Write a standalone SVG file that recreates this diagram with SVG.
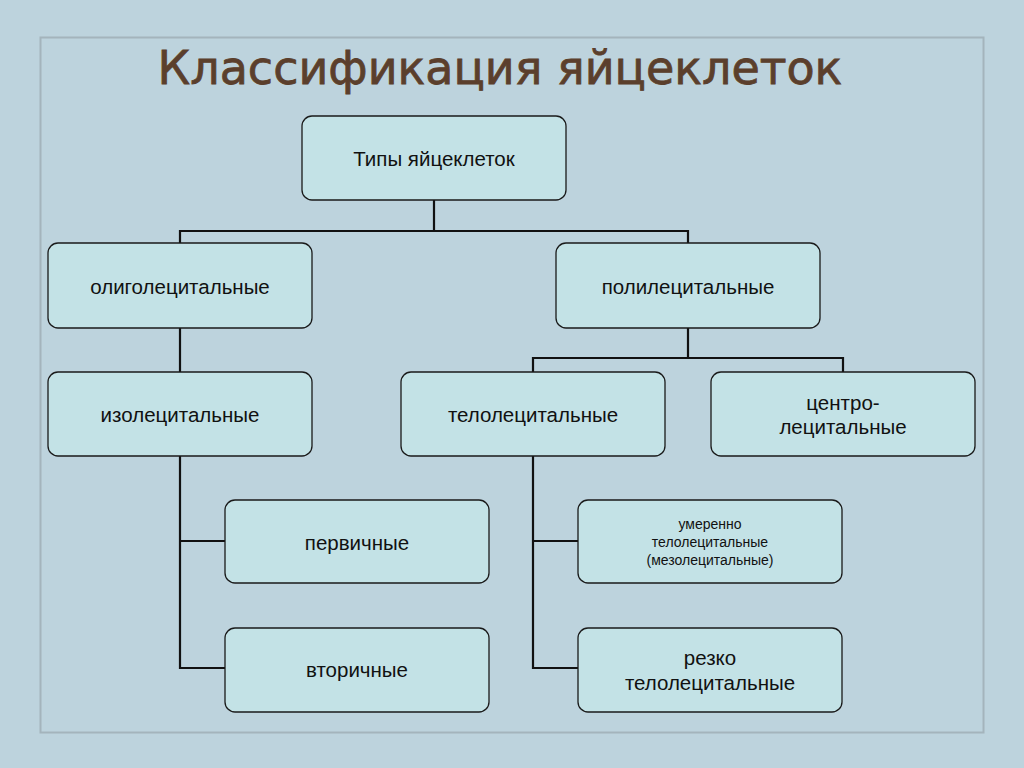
<svg xmlns="http://www.w3.org/2000/svg" width="1024" height="768" viewBox="0 0 1024 768">
<style>
.n rect{fill:#c3e2e6;stroke:#1a1a1a;stroke-width:1.3}
.n text{font-family:"Liberation Sans",Arial,sans-serif;font-size:20.5px;fill:#111;text-anchor:middle}
.n text.s{font-size:14px}
.c path{fill:none;stroke:#111;stroke-width:2.2}
</style>
<rect width="1024" height="768" fill="#bdd3dd"/>
<rect x="40.500" y="37.500" width="943" height="695" fill="#bdd3dd" stroke="#a4b4bc" stroke-width="2"/>
<text x="500" y="84" font-family="'Comic Sans MS','DejaVu Sans',sans-serif" font-size="46" fill="#5b3f2c" stroke="#5b3f2c" stroke-width="0.8" text-anchor="middle">Классификация яйцеклеток</text>
<g class="c">
<path d="M434 200V231M180 243V231H688V243"/>
<path d="M180 328V372"/>
<path d="M688 328V358M533 372V358H843V372"/>
<path d="M180 456V668H225M180 541H225"/>
<path d="M533 456V668H578M533 541H578"/>
</g>
<g class="n" id="n1"><rect x="302" y="116" width="264" height="84" rx="10"/><text x="434" y="166">Типы яйцеклеток</text></g>
<g class="n" id="n2"><rect x="48" y="243" width="264" height="85" rx="10"/><text x="180" y="294">олиголецитальные</text></g>
<g class="n" id="n3"><rect x="556" y="243" width="264" height="85" rx="10"/><text x="688" y="294">полилецитальные</text></g>
<g class="n" id="n4"><rect x="48" y="372" width="264" height="84" rx="10"/><text x="180" y="422">изолецитальные</text></g>
<g class="n" id="n5"><rect x="401" y="372" width="264" height="84" rx="10"/><text x="533" y="422">телолецитальные</text></g>
<g class="n" id="n6"><rect x="711" y="372" width="264" height="84" rx="10"/><text x="843" y="410">центро-</text><text x="843" y="434">лецитальные</text></g>
<g class="n" id="n7"><rect x="225" y="500" width="264" height="83" rx="10"/><text x="357" y="550">первичные</text></g>
<g class="n" id="n8"><rect x="225" y="628" width="264" height="84" rx="10"/><text x="357" y="677">вторичные</text></g>
<g class="n" id="n9"><rect x="578" y="500" width="264" height="83" rx="10"/><text class="s" x="710" y="529">умеренно</text><text class="s" x="710" y="547">телолецитальные</text><text class="s" x="710" y="565">(мезолецитальные)</text></g>
<g class="n" id="n10"><rect x="578" y="628" width="264" height="84" rx="10"/><text x="710" y="665">резко</text><text x="710" y="690">телолецитальные</text></g>
</svg>
